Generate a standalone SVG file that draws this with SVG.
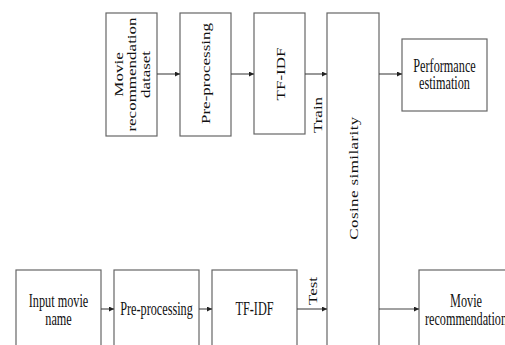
<svg xmlns="http://www.w3.org/2000/svg" width="505" height="345" viewBox="0 0 505 345">
<style>
.box{fill:#fff;stroke:#666;stroke-width:1.2}
.t{font-family:"Liberation Serif","Times New Roman",serif;font-size:17px;fill:#111;text-anchor:middle}
.h{font-size:18px}
.c{stroke:#444;stroke-width:1.1;fill:none;marker-end:url(#ah)}
</style>
<defs>
<marker id="ah" viewBox="0 0 6 6" refX="6" refY="3" markerWidth="5" markerHeight="5" markerUnits="userSpaceOnUse" orient="auto">
<path d="M0,0 L6,3 L0,6 Z" fill="#222"/>
</marker>
</defs>
<rect width="505" height="345" fill="#fff"/>
<g id="dataset">
<rect class="box" x="106" y="13" width="51" height="123"/>
<text class="t" transform="translate(122.5,74.5) scale(0.75,1) rotate(-90)">Movie</text>
<text class="t" transform="translate(136,74.5) scale(0.75,1) rotate(-90)">recommendation</text>
<text class="t" transform="translate(150,74.5) scale(0.75,1) rotate(-90)">dataset</text>
</g>
<g id="preproc-top">
<rect class="box" x="180" y="13" width="51" height="123"/>
<text class="t" transform="translate(209.5,73.5) scale(0.75,1) rotate(-90)">Pre-processing</text>
</g>
<g id="tfidf-top">
<rect class="box" x="254" y="13" width="51" height="121"/>
<text class="t" transform="translate(284.5,74) scale(0.75,1) rotate(-90)">TF-IDF</text>
</g>
<g id="cosine">
<rect class="box" x="327" y="13" width="52" height="350"/>
<text class="t" style="letter-spacing:0.4px" transform="translate(358,178) scale(0.75,1) rotate(-90)">Cosine similarity</text>
</g>
<g id="performance">
<rect class="box" x="402" y="39" width="85" height="72"/>
<text class="t h" transform="translate(444.5,72) scale(0.68,1)">Performance</text>
<text class="t h" transform="translate(444.5,89) scale(0.68,1)">estimation</text>
</g>
<g id="input">
<rect class="box" x="16" y="270" width="85" height="90"/>
<text class="t h" transform="translate(58.5,307) scale(0.68,1)">Input movie</text>
<text class="t h" transform="translate(58.5,325) scale(0.68,1)">name</text>
</g>
<g id="preproc-bottom">
<rect class="box" x="114" y="270" width="85" height="90"/>
<text class="t h" transform="translate(156.5,315) scale(0.68,1)">Pre-processing</text>
</g>
<g id="tfidf-bottom">
<rect class="box" x="212" y="270" width="85" height="90"/>
<text class="t h" transform="translate(254.5,315) scale(0.68,1)">TF-IDF</text>
</g>
<g id="recommendation">
<rect class="box" x="419" y="270" width="95" height="90"/>
<text class="t h" transform="translate(466,307) scale(0.68,1)">Movie</text>
<text class="t h" transform="translate(466,325) scale(0.68,1)">recommendation</text>
</g>
<g id="connectors">
<line class="c" x1="157" y1="74" x2="180" y2="74"/>
<line class="c" x1="231" y1="74" x2="254" y2="74"/>
<line class="c" x1="305" y1="74" x2="327" y2="74"/>
<line class="c" x1="379" y1="74" x2="402" y2="74"/>
<line class="c" x1="101" y1="309" x2="114" y2="309"/>
<line class="c" x1="199" y1="309" x2="212" y2="309"/>
<line class="c" x1="297" y1="309" x2="327" y2="309"/>
<line class="c" x1="379" y1="309" x2="419" y2="309"/>
<text class="t" transform="translate(322,115) scale(0.75,1) rotate(-90)">Train</text>
<text class="t" transform="translate(316.5,291) scale(0.75,1) rotate(-90)">Test</text>
</g>
</svg>
